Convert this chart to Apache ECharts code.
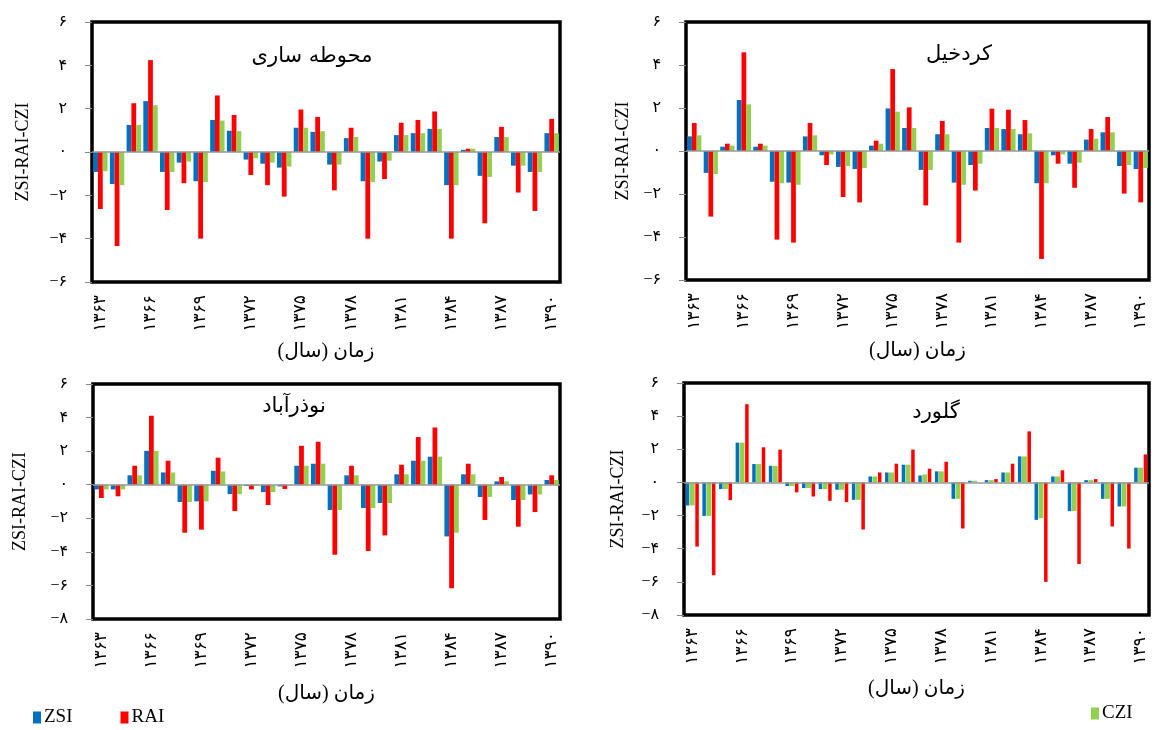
<!DOCTYPE html>
<html><head><meta charset="utf-8">
<script src="https://cdn.jsdelivr.net/npm/echarts@6/dist/echarts.min.js"></script>
<style>html,body{margin:0;padding:0;background:#fff}#c{width:1154px;height:730px}</style>
</head><body><div id="c"></div>
<script>
const years = ['۱۳۶۳','۱۳۶۴','۱۳۶۵','۱۳۶۶','۱۳۶۷','۱۳۶۸','۱۳۶۹','۱۳۷۰','۱۳۷۱','۱۳۷۲','۱۳۷۳','۱۳۷۴','۱۳۷۵','۱۳۷۶','۱۳۷۷','۱۳۷۸','۱۳۷۹','۱۳۸۰','۱۳۸۱','۱۳۸۲','۱۳۸۳','۱۳۸۴','۱۳۸۵','۱۳۸۶','۱۳۸۷','۱۳۸۸','۱۳۸۹','۱۳۹۰'];
const panelTitles = ['محوطه ساری','کردخیل','نوذرآباد','گلورد'];
const xAxisTitle = 'زمان (سال)';
const yAxisTitle = 'ZSI-RAI-CZI';
const seriesNames = ['ZSI','RAI','CZI'];

// Panel 1: محوطه ساری
const zsiSari = [-0.92,-1.48,1.25,2.35,-0.92,-0.49,-1.35,1.48,0.98,-0.35,-0.54,-0.72,1.12,0.93,-0.58,0.64,-1.35,-0.44,0.78,0.87,1.07,-1.53,0.10,-1.10,0.69,-0.63,-0.92,0.87];
const raiSari = [-2.63,-4.34,2.25,4.24,-2.68,-1.44,-4.00,2.61,1.71,-1.06,-1.53,-2.06,1.96,1.62,-1.77,1.12,-4.00,-1.25,1.35,1.48,1.87,-4.00,0.15,-3.29,1.16,-1.87,-2.72,1.53];
const cziSari = [-0.89,-1.53,1.25,2.16,-0.92,-0.44,-1.39,1.45,0.96,-0.29,-0.49,-0.67,1.12,0.96,-0.58,0.69,-1.39,-0.40,0.78,0.87,1.07,-1.53,0.15,-1.15,0.69,-0.63,-0.92,0.87];

// Panel 2: کردخیل
const zsiKord = [0.68,-1.02,0.20,2.37,0.20,-1.43,-1.47,0.68,-0.20,-0.74,-0.84,0.25,1.98,1.07,-0.88,0.78,-1.47,-0.65,1.07,1.02,0.78,-1.50,-0.20,-0.59,0.53,0.87,-0.70,-0.84];
const raiKord = [1.30,-3.05,0.34,4.59,0.34,-4.12,-4.26,1.30,-0.65,-2.14,-2.39,0.48,3.81,2.03,-2.53,1.40,-4.26,-1.84,1.97,1.92,1.44,-5.02,-0.59,-1.71,1.02,1.58,-1.98,-2.39];
const cziKord = [0.73,-1.07,0.25,2.17,0.25,-1.50,-1.57,0.73,-0.16,-0.70,-0.79,0.34,1.83,1.07,-0.88,0.78,-1.57,-0.59,1.07,1.02,0.82,-1.50,-0.16,-0.54,0.57,0.87,-0.65,-0.79];

// Panel 3: نوذرآباد
const zsiNowzar = [-0.28,-0.28,0.56,2.02,0.73,-1.03,-0.99,0.83,-0.56,-0.08,-0.44,-0.10,1.13,1.25,-1.51,0.56,-1.39,-1.09,0.62,1.43,1.67,-3.08,0.62,-0.73,0.20,-0.91,-0.58,0.28];
const raiNowzar = [-0.79,-0.69,1.13,4.11,1.43,-2.86,-2.68,1.61,-1.57,-0.28,-1.21,-0.25,2.32,2.56,-4.17,1.13,-3.95,-3.02,1.19,2.84,3.41,-6.17,1.25,-2.10,0.46,-2.50,-1.63,0.56];
const cziNowzar = [-0.28,-0.28,0.56,2.02,0.73,-1.03,-0.99,0.79,-0.56,-0.08,-0.44,-0.05,1.13,1.25,-1.51,0.56,-1.39,-1.09,0.62,1.43,1.67,-2.86,0.62,-0.73,0.20,-0.91,-0.58,0.28];

// Panel 4: گلورد
const zsiGolvard = [-1.39,-2.02,-0.40,2.40,1.11,1.00,-0.22,-0.34,-0.40,-0.44,-1.05,0.36,0.60,1.07,0.42,0.67,-0.99,0.10,0.14,0.60,1.57,-2.26,0.36,-1.73,0.14,-0.99,-1.45,0.89];
const cziGolvard = [-1.39,-2.02,-0.40,2.40,1.11,1.00,-0.22,-0.34,-0.40,-0.44,-1.05,0.36,0.60,1.07,0.48,0.67,-0.99,0.10,0.14,0.60,1.57,-2.16,0.36,-1.73,0.14,-0.99,-1.45,0.89];
const raiGolvard = [-3.87,-5.60,-1.07,4.72,2.12,1.98,-0.60,-0.85,-1.11,-1.19,-2.84,0.60,1.13,1.98,0.83,1.25,-2.78,0.00,0.20,1.13,3.08,-6.00,0.73,-4.92,0.20,-2.66,-3.99,1.69];

const yMins = [-6,-6,-8,-8];
const yMaxs = [6,6,6,6];

const COLORS = {ZSI:'#0070C0', RAI:'#FF0000', CZI:'#92D050'};
const SERIF = "'Liberation Serif','Times New Roman','DejaVu Sans',serif";
const FA = "'Liberation Serif','DejaVu Sans',serif";

function faDigits(v){
  const d='۰۱۲۳۴۵۶۷۸۹';
  const s=String(Math.abs(v)).replace(/[0-9]/g,c=>d[+c]);
  return v<0 ? '−'+s : s;
}

const grids = [
  {left:92, top:22, width:468, height:260},
  {left:686, top:22, width:463, height:258},
  {left:93, top:384, width:467, height:235},
  {left:684, top:383, width:465, height:232}
];
const yNameGaps=[60,54,64,57];
const xNameGaps=[60,61,65,64];

const xAxes = grids.map((g,i)=>({
  type:'category', gridIndex:i, data:years,
  axisLine:{show:false}, axisTick:{show:false},
  axisLabel:{interval:2, rotate:90, fontSize:17, margin:13, color:'#000', fontFamily:FA},
  name:xAxisTitle, nameLocation:'middle', nameGap:xNameGaps[i],
  nameTextStyle:{fontSize:20, color:'#000', fontFamily:FA}
}));
const yAxes = grids.map((g,i)=>({
  type:'value', gridIndex:i, min:yMins[i], max:yMaxs[i], interval:2,
  axisLine:{show:false},
  axisTick:{show:true, length:7, lineStyle:{color:'#888', width:1}},
  splitLine:{show:false},
  axisLabel:{formatter:v=>faDigits(v), fontSize:16, margin:25, color:'#000', fontFamily:FA},
  name:yAxisTitle, nameLocation:'middle', nameRotate:90, nameGap:yNameGaps[i],
  nameTextStyle:{fontSize:18, color:'#000', fontFamily:SERIF}
}));

const zeroLine = {silent:true, symbol:['none','none'], label:{show:false},
  lineStyle:{color:'#999', width:1.5, type:'solid'}, data:[{yAxis:0}], animation:false};

function bar(name, data, i, extra){
  return Object.assign({type:'bar', name, data, xAxisIndex:i, yAxisIndex:i,
    itemStyle:{color:COLORS[name]}, barGap:'0%', barCategoryGap:'14%'}, extra||{});
}

const series = [
  bar('ZSI', zsiSari, 0, {markLine:zeroLine}), bar('RAI', raiSari, 0), bar('CZI', cziSari, 0),
  bar('ZSI', zsiKord, 1, {markLine:zeroLine}), bar('RAI', raiKord, 1), bar('CZI', cziKord, 1),
  bar('ZSI', zsiNowzar, 2, {markLine:zeroLine}), bar('RAI', raiNowzar, 2), bar('CZI', cziNowzar, 2),
  bar('ZSI', zsiGolvard, 3, {markLine:zeroLine, barWidth:3.5}),
  bar('CZI', cziGolvard, 3, {barWidth:5}),
  bar('RAI', raiGolvard, 3, {barWidth:3.5, barGap:'12%'})
];

const titlePos = [[312,57],[959,55],[294,407],[936,413]];
const graphic = panelTitles.map((t,i)=>({
  type:'text', x:titlePos[i][0], y:titlePos[i][1], z:100,
  style:{text:t, font:"21px 'DejaVu Sans', sans-serif", fill:'#000', textAlign:'center', textVerticalAlign:'middle'}
}));

const chart = echarts.init(document.getElementById('c'), null, {renderer:'canvas'});
chart.setOption({
  animation:false,
  backgroundColor:'#fff',
  grid: grids.map(g=>Object.assign({show:true, borderColor:'#000', borderWidth:3.5, backgroundColor:'transparent'}, g)),
  xAxis:xAxes, yAxis:yAxes, series, graphic,
  legend:[
    {data:['ZSI','RAI'], left:33, top:708, icon:'rect', itemWidth:8, itemHeight:12, itemGap:48,
     padding:0, textStyle:{fontSize:19, fontFamily:SERIF, color:'#000', padding:[0,0,0,-2]}},
    {data:['CZI'], left:1091, top:704, icon:'rect', itemWidth:8, itemHeight:12,
     padding:0, textStyle:{fontSize:19, fontFamily:SERIF, color:'#000', padding:[0,0,0,-2]}}
  ]
});
</script></body></html>
